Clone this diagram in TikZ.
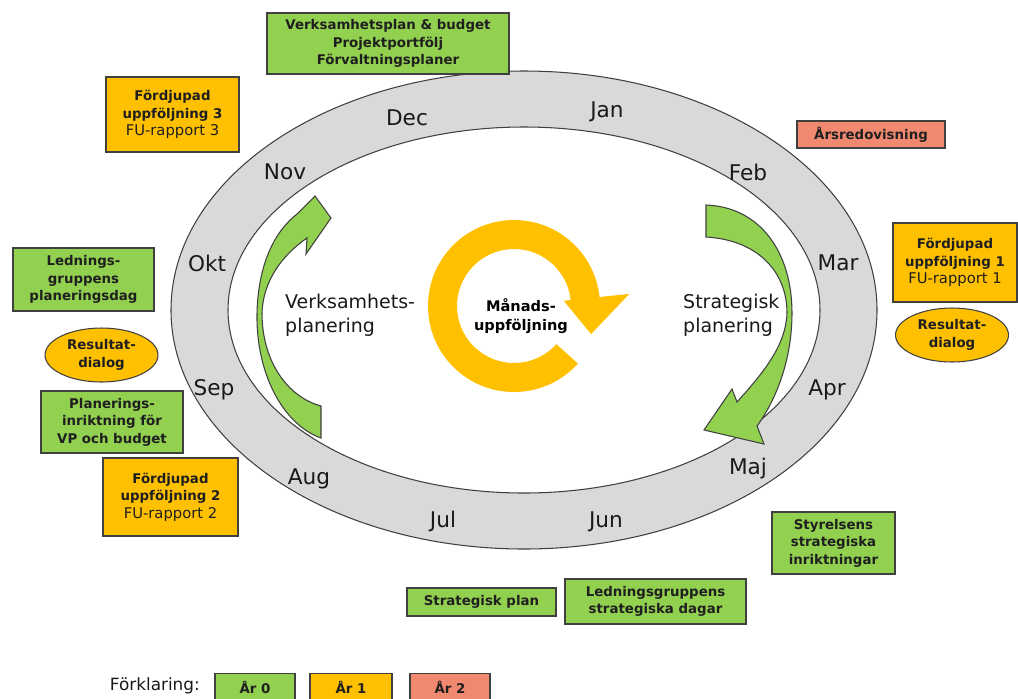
\documentclass[tikz,border=0pt]{standalone}
\usepackage{fontspec}
\setmainfont{DejaVu Sans}
\usetikzlibrary{shapes.geometric,calc}
\definecolor{arGreen}{RGB}{146,208,80}
\definecolor{arYellow}{RGB}{255,192,0}
\definecolor{arRed}{RGB}{241,137,112}
\definecolor{ringGray}{RGB}{217,217,217}
\definecolor{edgeGray}{RGB}{64,64,64}
\newcommand{\boxfont}{\fontsize{7.6}{9.9}\selectfont\bfseries}
\newcommand{\subfont}{\fontsize{8.4}{9.9}\selectfont\mdseries}
\newcommand{\monthfont}{\fontsize{12.3}{14}\selectfont}
\newcommand{\planfont}{\fontsize{10.8}{13.5}\selectfont}

\begin{document}
\begin{tikzpicture}[x=0.02cm, y=-0.02cm,
    box/.style={draw=edgeGray, line width=0.6pt, align=center, inner sep=0pt,
      font=\boxfont, text=black!88},
    green box/.style={box, fill=arGreen},
    yellow box/.style={box, fill=arYellow},
    red box/.style={box, fill=arRed},
    dialog/.style={box, ellipse, fill=arYellow, minimum width=2.26cm,
      minimum height=1.08cm},
    month/.style={font=\monthfont, text=black!90},
    plan/.style={font=\planfont, align=left, anchor=west, text=black!90},
    arrowshape/.style={fill=arGreen, draw=edgeGray, line width=0.6pt}]
  \useasboundingbox (0,0) rectangle (1018,698);

  % the year ring
  \coordinate (C) at (524,310);
  \fill[ringGray, even odd rule] (C) ellipse [x radius=353, y radius=239]
    (C) ellipse [x radius=296, y radius=183];
  \draw[edgeGray, line width=0.6pt] (C) ellipse [x radius=353, y radius=239];
  \draw[edgeGray, line width=0.6pt] (C) ellipse [x radius=296, y radius=183];

  \node[month] (jan) at (607,112) {Jan};
  \node[month] (feb) at (748,172) {Feb};
  \node[month] (mar) at (838,263) {Mar};
  \node[month] (apr) at (827,390) {Apr};
  \node[month] (maj) at (748,469) {Maj};
  \node[month] (jun) at (606,522) {Jun};
  \node[month] (jul) at (443,521) {Jul};
  \node[month] (aug) at (309,479) {Aug};
  \node[month] (sep) at (214,390) {Sep};
  \node[month] (okt) at (207,263) {Okt};
  \node[month] (nov) at (285,172) {Nov};
  \node[month] (dec) at (407,118) {Dec};

  % monthly follow-up arrow
  \coordinate (M) at (514,306);
  \fill[arYellow] ($(M)+(42:86)$) arc[start angle=42, end angle=354, radius=86]
    -- ($(M)+(354:116)$) -- ($(M)+(380:82)$) -- ($(M)+(354:50)$)
    -- ($(M)+(354:57)$) arc[start angle=354, end angle=42, radius=57] -- cycle;
  \node[font=\fontsize{8.3}{10.5}\selectfont\bfseries, align=center] (manad)
    at (521,316) {Månads-\\uppföljning};

  % planning arrows
  \filldraw[arrowshape] (321,438) .. controls (282,424) and (256,372) .. (257,314)
    .. controls (258,265) and (274,232) .. (297,214)
    -- (315,196) -- (331,218) -- (306,254) -- (307,238)
    .. controls (281,256) and (263,282) .. (262,313)
    .. controls (262,362) and (288,397) .. (321,406) -- cycle;
  \filldraw[arrowshape] (706,205) .. controls (760,207) and (792,252) .. (792,313)
    .. controls (792,360) and (776,400) .. (757,426)
    -- (764,444) -- (704,430) -- (732,389) -- (737,402)
    .. controls (764,372) and (786,345) .. (787,313)
    .. controls (787,272) and (758,240) .. (706,237) -- cycle;
  \node[plan] (vplan) at (279,315) {Verksamhets-\\planering};
  \node[plan] (splan) at (677,315) {Strategisk\\planering};

  % activities
  \node[green box, minimum width=4.84cm, minimum height=1.22cm] (vpbudget)
    at (388,43.5) {Verksamhetsplan \& budget\\Projektportfölj\\Förvaltningsplaner};
  \node[yellow box, minimum width=2.66cm, minimum height=1.5cm] (fu3)
    at (172.5,114.5) {Fördjupad\\uppföljning 3\\{\subfont FU-rapport 3}};
  \node[red box, minimum width=2.96cm, minimum height=0.54cm] (arsred)
    at (871,134.5) {Årsredovisning};
  \node[yellow box, minimum width=2.48cm, minimum height=1.58cm] (fu1)
    at (955,262.5) {Fördjupad\\uppföljning 1\\{\subfont FU-rapport 1}};
  \node[dialog] (dialogR) at (952,335) {Resultat-\\dialog};
  \node[green box, minimum width=2.82cm, minimum height=1.26cm] (ledplan)
    at (83.5,279.5) {Lednings-\\gruppens\\planeringsdag};
  \node[dialog] (dialogL) at (101.5,355) {Resultat-\\dialog};
  \node[green box, minimum width=2.84cm, minimum height=1.24cm] (vpinr)
    at (112,422) {Planerings-\\inriktning för\\VP och budget};
  \node[yellow box, minimum width=2.7cm, minimum height=1.56cm] (fu2)
    at (170.5,497) {Fördjupad\\uppföljning 2\\{\subfont FU-rapport 2}};
  \node[green box, minimum width=2.46cm, minimum height=1.24cm] (styr)
    at (833.5,543) {Styrelsens\\strategiska\\inriktningar};
  \node[green box, minimum width=2.98cm, minimum height=0.56cm] (strplan)
    at (481.5,602) {Strategisk plan};
  \node[green box, minimum width=3.62cm, minimum height=0.9cm] (leddag)
    at (655.5,601.5) {Ledningsgruppens\\strategiska dagar};

  % legend
  \node[font=\fontsize{9.6}{11}\selectfont, anchor=east, text=black!90] (forkl)
    at (206,686) {Förklaring:};
  \node[green box, minimum width=1.6cm, minimum height=0.56cm, anchor=north] (ar0)
    at (255,673) {År 0};
  \node[yellow box, minimum width=1.64cm, minimum height=0.56cm, anchor=north] (ar1)
    at (351,673) {År 1};
  \node[red box, minimum width=1.6cm, minimum height=0.56cm, anchor=north] (ar2)
    at (450,673) {År 2};
\end{tikzpicture}
\end{document}
